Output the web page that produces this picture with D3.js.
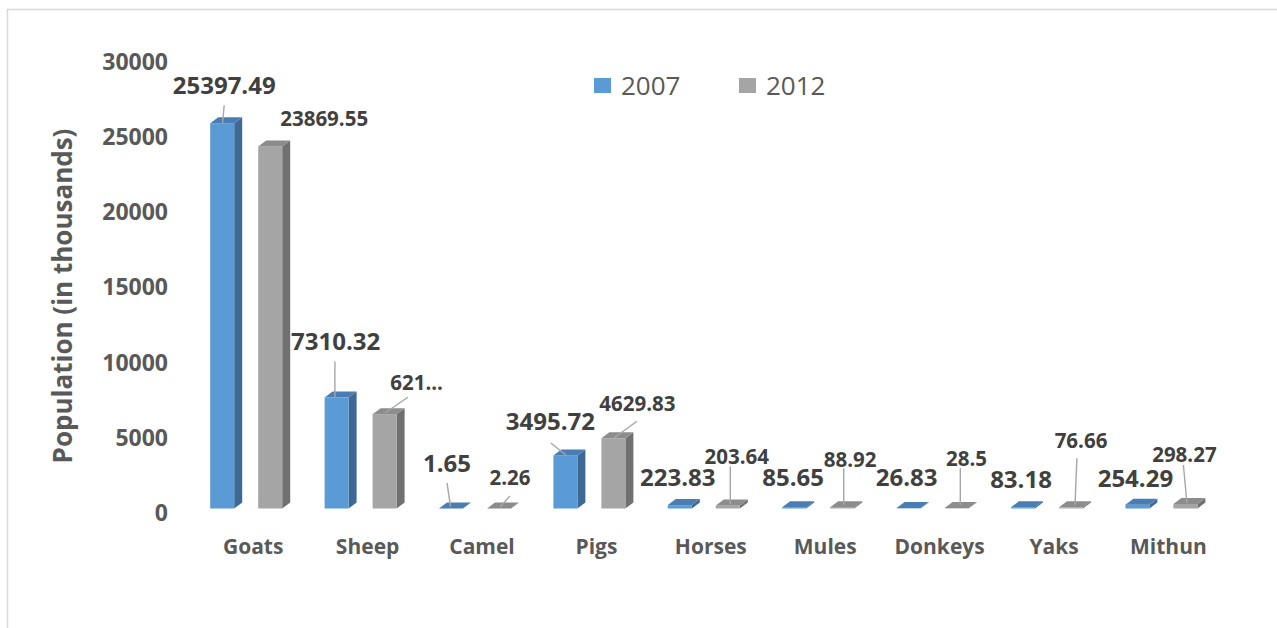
<!DOCTYPE html>
<html>
<head>
<meta charset="utf-8">
<script src="https://cdn.jsdelivr.net/npm/d3@7"></script>
<style>
  body { margin: 0; background: #ffffff; }
  svg { display: block; }
  text { font-family: "Open Sans", "Noto Sans", sans-serif; }
</style>
</head>
<body>
<svg id="chart" width="1277" height="628"></svg>
<script>
// ---- data ----
const categories = ["Goats", "Sheep", "Camel", "Pigs", "Horses", "Mules", "Donkeys", "Yaks", "Mithun"];
const seriesNames = ["2007", "2012"];
const values2007 = [25397.49, 7310.32, 1.65, 3495.72, 223.83, 85.65, 26.83, 83.18, 254.29];
const values2012 = [23869.55, 6215, 2.26, 4629.83, 203.64, 88.92, 28.5, 76.66, 298.27];
const yTicks = [0, 5000, 10000, 15000, 20000, 25000, 30000];
// labels that are cut short in the chart (series, category index)
const truncatedLabels = [["2012", 1]];

// ---- layout: label placement relative to each bar's top face ----
const labelOffsets = {
  "2007": [[-2, -35], [-5, -53], [-8, -42], [-19, -31], [-6, -25], [-5, -27], [-6, -28], [-6, -25], [-6, -23]],
  "2012": [[50, -25], [28, -29], [7, -28], [20, -32], [5, -46], [4, -45], [6, -46], [6, -64], [-5, -46]]
};
// leader lines [x1, y1, x2, y2] relative to the same anchor
const leaderLines = {
  "2007": [[-2, -15, -3.6, 3], [-5.7, -33, -5.7, 2.4], [-8, -22.5, -4.4, 1.5], [-18.5, -9.5, -3.5, 2.5], null, null, null, null, null],
  "2012": [null, [19.3, -14, -3.7, 1.8], [7, -9.5, -3, 1.5], [19.5, -14, -3.5, 2.7], [-1.5, -36, -1.5, 1.6], [-2.5, -36, -2.5, 0.8], [-0.3, -37, -0.3, 0], [1.9, -46, 0, 0.7], [-6, -36, -2.5, 2]]
};

const colors = {
  "2007": { front: "#5b9bd5", top: "#4a7db3", side: "#3d6994" },
  "2012": { front: "#a5a5a5", top: "#8c8c8c", side: "#707070" }
};
const depthX = 8, depthY = -6;

const svg = d3.select("#chart");

// frame
svg.append("rect")
  .attr("x", 7.5).attr("y", 9.5)
  .attr("width", 1300).attr("height", 700)
  .attr("fill", "none").attr("stroke", "#d9d9d9").attr("stroke-width", 1.5);

// ---- scales ----
const x0 = d3.scaleBand().domain(categories).range([193, 193 + 9 * 114.4]);
const x1 = d3.scaleBand().domain(seriesNames).range([17.2, 89.2]).paddingInner(0.5).paddingOuter(0);
const y = d3.scaleLinear().domain([0, 30000]).range([508.5, 53.4]);
const yAxisScale = d3.scaleLinear().domain([0, 30000]).range([513, 62]);

// ---- value axis (labels only) ----
const yAxis = svg.append("g")
  .attr("transform", "translate(168,0)")
  .call(d3.axisLeft(yAxisScale).tickValues(yTicks).tickSize(0).tickPadding(0).tickFormat(d3.format("d")));
yAxis.select(".domain").remove();
yAxis.selectAll("text")
  .attr("fill", "#595959").attr("font-size", 23).attr("font-weight", 700)
  .style("font-family", "'Open Sans', sans-serif");

// axis title
svg.append("text")
  .attr("transform", "translate(63,296) rotate(-90)")
  .attr("text-anchor", "middle").attr("dy", "0.35em")
  .attr("fill", "#595959").attr("font-size", 26).attr("font-weight", 700)
  .text("Population (in thousands)");

// ---- category axis ----
const xAxis = svg.append("g")
  .attr("transform", "translate(3,539)")
  .call(d3.axisBottom(x0).tickSize(0).tickPadding(0));
xAxis.select(".domain").remove();
xAxis.selectAll("text")
  .attr("fill", "#595959").attr("font-size", 21).attr("font-weight", 700)
  .style("font-family", "'Open Sans', sans-serif");

// ---- 3D bars ----
const seriesData = { "2007": values2007, "2012": values2012 };
const barW = x1.bandwidth();

const items = [];
seriesNames.forEach(s => {
  seriesData[s].forEach((v, i) => {
    const left = x0(categories[i]) + x1(s);
    const top = y(v);
    const base = y(0);
    items.push({ s, i, v, left, top, base,
      ax: left + barW / 2 + depthX / 2, ay: top + depthY / 2 });
  });
});

const bars = svg.append("g").selectAll("g").data(items).join("g");
// side face
bars.append("path")
  .attr("d", d => `M${d.left + barW},${d.top} L${d.left + barW + depthX},${d.top + depthY} L${d.left + barW + depthX},${d.base + depthY} L${d.left + barW},${d.base} Z`)
  .attr("fill", d => colors[d.s].side);
// front face
bars.append("rect")
  .attr("x", d => d.left).attr("y", d => d.top)
  .attr("width", barW).attr("height", d => Math.max(0, d.base - d.top))
  .attr("fill", d => colors[d.s].front);
// top face
bars.append("path")
  .attr("d", d => `M${d.left},${d.top} L${d.left + depthX},${d.top + depthY} L${d.left + barW + depthX},${d.top + depthY} L${d.left + barW},${d.top} Z`)
  .attr("fill", d => colors[d.s].top);

// ---- leader lines ----
svg.append("g").selectAll("line")
  .data(items.filter(d => leaderLines[d.s][d.i]))
  .join("line")
  .attr("x1", d => d.ax + leaderLines[d.s][d.i][0])
  .attr("y1", d => d.ay + leaderLines[d.s][d.i][1])
  .attr("x2", d => d.ax + leaderLines[d.s][d.i][2])
  .attr("y2", d => d.ay + leaderLines[d.s][d.i][3])
  .attr("stroke", "#a6a6a6").attr("stroke-width", 1.4);

// ---- data labels ----
const isTruncated = d => truncatedLabels.some(t => t[0] === d.s && t[1] === d.i);
svg.append("g").selectAll("text")
  .data(items)
  .join("text")
  .attr("x", d => d.ax + labelOffsets[d.s][d.i][0])
  .attr("y", d => d.ay + labelOffsets[d.s][d.i][1])
  .attr("dy", "0.36em")
  .attr("text-anchor", "middle")
  .attr("fill", "#404040").attr("font-weight", 700)
  .attr("font-size", d => d.s === "2007" ? 24 : 20.5)
  .text(d => isTruncated(d) ? String(d.v).slice(0, 3) + "..." : String(d.v));

// ---- legend ----
const legendX = [594, 739];
const legend = svg.append("g").selectAll("g").data(seriesNames).join("g")
  .attr("transform", (d, i) => `translate(${legendX[i]},78)`);
legend.append("rect").attr("width", 17).attr("height", 15).attr("fill", d => colors[d].front);
legend.append("text")
  .attr("x", 27).attr("y", 7.5).attr("dy", "0.36em")
  .attr("fill", "#595959").attr("font-size", 26)
  .text(d => d);
</script>
</body>
</html>
